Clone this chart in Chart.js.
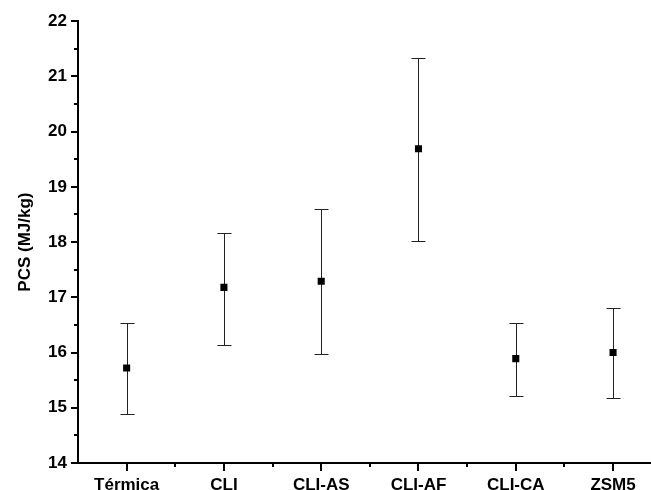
<!DOCTYPE html>
<html>
<head>
<meta charset="utf-8">
<script src="https://cdn.jsdelivr.net/npm/chart.js@4.4.0/dist/chart.umd.min.js"></script>
<style>
  html, body { margin: 0; padding: 0; background: #fff; }
  #wrap { width: 651px; height: 490px; }
</style>
</head>
<body>
<div id="wrap"><canvas id="chart"></canvas></div>
<script>
// PCS per catalyst
const categories = ['Térmica', 'CLI', 'CLI-AS', 'CLI-AF', 'CLI-CA', 'ZSM5'];
const pcsMean = [15.72, 17.18, 17.29, 19.69, 15.89, 16.00];
const pcsLow = [14.88, 16.13, 15.97, 18.02, 15.22, 15.18];
const pcsHigh = [16.53, 18.17, 18.60, 21.33, 16.54, 16.80];
const yTicks = [14, 15, 16, 17, 18, 19, 20, 21, 22];

const FONT = "'Liberation Sans', Arial, sans-serif";

// error bars drawn under the markers
const errorBars = {
  id: 'errorBars',
  beforeDatasetsDraw(chart) {
    const { ctx, scales: { x, y } } = chart;
    ctx.save();
    ctx.strokeStyle = '#222';
    ctx.lineWidth = 1;
    categories.forEach((c, i) => {
      const px = Math.round(x.getPixelForValue(i)) + 0.5;
      const top = Math.round(y.getPixelForValue(pcsHigh[i])) + 0.5;
      const bot = Math.round(y.getPixelForValue(pcsLow[i])) + 0.5;
      ctx.beginPath();
      ctx.moveTo(px, top); ctx.lineTo(px, bot);
      ctx.moveTo(px - 7, top); ctx.lineTo(px + 7, top);
      ctx.moveTo(px - 7, bot); ctx.lineTo(px + 7, bot);
      ctx.stroke();
    });
    ctx.restore();
  }
};

// major + minor tick marks, outward like the original plot
const tickMarks = {
  id: 'tickMarks',
  afterDraw(chart) {
    const { ctx, scales: { x, y }, chartArea } = chart;
    ctx.save();
    ctx.strokeStyle = '#000';
    ctx.lineWidth = 2;
    ctx.beginPath();
    for (let v = 14; v <= 22; v += 0.5) {
      const py = Math.round(y.getPixelForValue(v));
      const len = Number.isInteger(v) ? 7 : 4;
      ctx.moveTo(chartArea.left - len, py);
      ctx.lineTo(chartArea.left, py);
    }
    for (let v = 0; v <= 5.5; v += 0.5) {
      const px = Math.round(x.getPixelForValue(v));
      if (px > chartArea.right) continue;
      const len = Number.isInteger(v) ? 8 : 4;
      ctx.moveTo(px, chartArea.bottom);
      ctx.lineTo(px, chartArea.bottom + len);
    }
    ctx.stroke();
    ctx.restore();
  }
};

new Chart(document.getElementById('chart'), {
  type: 'scatter',
  data: {
    datasets: [{
      data: pcsMean.map((v, i) => ({ x: i, y: v })),
      pointStyle: 'rect',
      pointRadius: 5,
      pointHoverRadius: 5,
      backgroundColor: '#000',
      borderColor: '#000',
      borderWidth: 0,
    }],
  },
  options: {
    responsive: true,
    maintainAspectRatio: false,
    animation: false,
    layout: { autoPadding: false, padding: { top: 20, right: 0, left: 0, bottom: 0 } },
    plugins: {
      legend: { display: false },
      tooltip: { enabled: false },
    },
    scales: {
      x: {
        type: 'linear',
        min: -0.5,
        max: 5.39,
        afterBuildTicks: (s) => { s.ticks = categories.map((c, i) => ({ value: i })); },
        afterFit: (s) => { s.height = 27; },
        grid: { drawOnChartArea: false, drawTicks: false },
        border: { display: true, color: '#000', width: 2 },
        ticks: {
          callback: (v) => categories[v],
          color: '#000',
          padding: 12,
          maxRotation: 0,
          font: { family: FONT, size: 17, weight: 'bold' },
        },
      },
      y: {
        min: 14,
        max: 22,
        afterBuildTicks: (s) => { s.ticks = yTicks.map((v) => ({ value: v })); },
        afterFit: (s) => { s.width = 78; },
        grid: { drawOnChartArea: false, drawTicks: false },
        border: { display: true, color: '#000', width: 2 },
        ticks: {
          color: '#000',
          padding: 11,
          font: { family: FONT, size: 17, weight: 'bold' },
        },
        title: {
          display: true,
          text: 'PCS (MJ/kg)',
          color: '#000',
          padding: { top: 15, bottom: 4 },
          font: { family: FONT, size: 17, weight: 'bold' },
        },
      },
    },
  },
  plugins: [errorBars, tickMarks],
});
</script>
</body>
</html>
